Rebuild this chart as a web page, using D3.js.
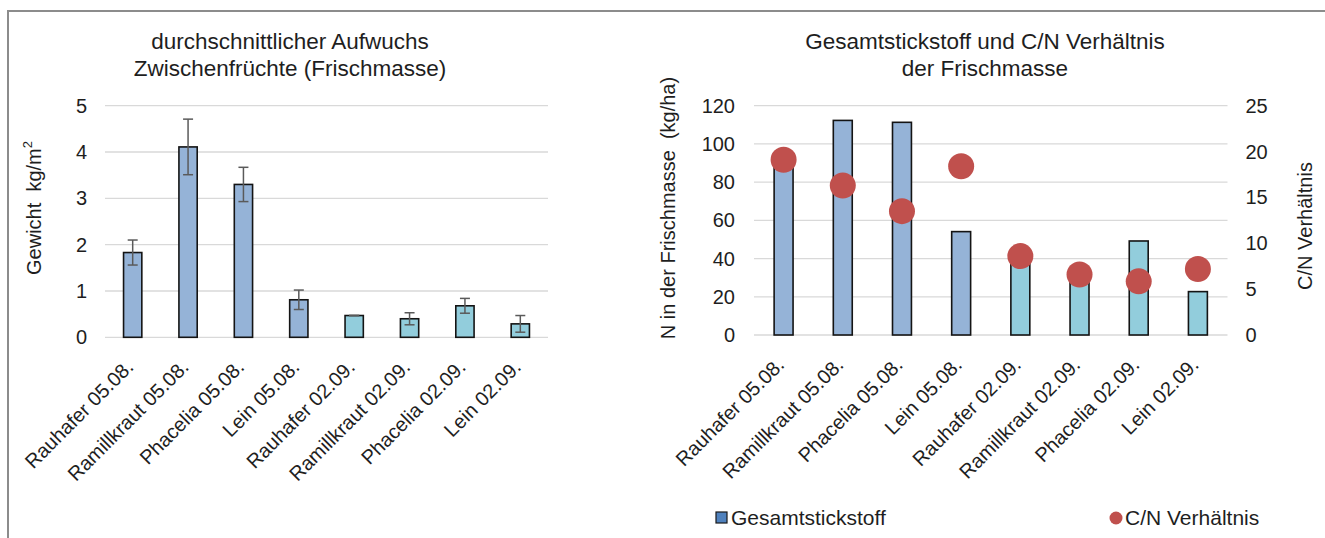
<!DOCTYPE html>
<html>
<head>
<meta charset="utf-8">
<script src="https://cdn.jsdelivr.net/npm/d3@7"></script>
<style>
  html, body { margin: 0; padding: 0; background: #fff; }
  svg { display: block; font-family: "Liberation Sans", Arial, sans-serif; }
  .pre { white-space: pre; }
</style>
</head>
<body>
<svg id="chart" width="1325" height="538"></svg>
<script>
// ---------------- data ----------------
const categories = ["Rauhafer 05.08.", "Ramillkraut 05.08.", "Phacelia 05.08.", "Lein 05.08.",
                    "Rauhafer 02.09.", "Ramillkraut 02.09.", "Phacelia 02.09.", "Lein 02.09."];
const samplingDate = ["05.08.", "05.08.", "05.08.", "05.08.", "02.09.", "02.09.", "02.09.", "02.09."];
const gewicht = [1.83, 4.11, 3.30, 0.81, 0.47, 0.40, 0.68, 0.29];
const gewichtError = [0.27, 0.60, 0.37, 0.21, 0.0, 0.13, 0.16, 0.18];
const stickstoff = [88, 112.3, 111.3, 54.1, 38, 30, 49.2, 22.7];
const cnVerhaeltnis = [19.1, 16.3, 13.5, 18.4, 8.6, 6.6, 5.85, 7.2];
const leftTicks = [0, 1, 2, 3, 4, 5];
const nTicks = [0, 20, 40, 60, 80, 100, 120];
const cnTicks = [0, 5, 10, 15, 20, 25];

// ---------------- styles ----------------
const colorByDate = d3.scaleOrdinal().domain(["05.08.", "02.09."]).range(["#95B3D7", "#92CDDC"]);
const dotColor = "#C0504D";
const textColor = "#1e1e1e";
const gridColor = "#d9d9d9";

const svg = d3.select("#chart");

// outer frame
svg.append("rect").attr("x", 8).attr("y", 11).attr("width", 1340).attr("height", 560)
  .attr("fill", "none").attr("stroke", "#8c8c8c").attr("stroke-width", 2);

function drawXLabels(g, x, y0) {
  g.selectAll("text.xl").data(categories).join("text")
    .attr("class", "xl")
    .attr("transform", d => `translate(${x(d) + x.bandwidth() / 2 - 3},${y0 + 26}) rotate(-45)`)
    .attr("text-anchor", "end")
    .attr("dy", "0.35em")
    .attr("font-size", 20)
    .attr("fill", textColor)
    .text(d => d);
}

// ================= LEFT CHART =================
{
  const L = { left: 105, right: 548, top: 105.7, bottom: 337.3 };
  const g = svg.append("g");
  const x = d3.scaleBand().domain(categories).range([L.left, L.right])
    .paddingInner(0.67).paddingOuter(0.335);
  const y = d3.scaleLinear().domain([0, 5]).range([L.bottom, L.top]);

  g.selectAll("line.grid").data(leftTicks).join("line")
    .attr("x1", L.left).attr("x2", L.right)
    .attr("y1", d => y(d)).attr("y2", d => y(d))
    .attr("stroke", gridColor).attr("stroke-width", 1.3);

  g.selectAll("text.yt").data(leftTicks).join("text")
    .attr("x", L.left - 18).attr("y", d => y(d)).attr("dy", "0.35em")
    .attr("text-anchor", "end").attr("font-size", 20).attr("fill", textColor)
    .text(d => d);

  g.selectAll("rect.bar").data(categories).join("rect")
    .attr("x", d => x(d)).attr("width", x.bandwidth())
    .attr("y", (d, i) => y(gewicht[i])).attr("height", (d, i) => y(0) - y(gewicht[i]))
    .attr("fill", (d, i) => colorByDate(samplingDate[i]))
    .attr("stroke", "#141414").attr("stroke-width", 1.6);

  const eb = g.selectAll("g.err").data(categories).join("g");
  eb.append("line")
    .attr("x1", d => x(d) + x.bandwidth() / 2).attr("x2", d => x(d) + x.bandwidth() / 2)
    .attr("y1", (d, i) => y(gewicht[i] + gewichtError[i])).attr("y2", (d, i) => y(gewicht[i] - gewichtError[i]));
  eb.append("line")
    .attr("x1", d => x(d) + x.bandwidth() / 2 - 5).attr("x2", d => x(d) + x.bandwidth() / 2 + 5)
    .attr("y1", (d, i) => y(gewicht[i] + gewichtError[i])).attr("y2", (d, i) => y(gewicht[i] + gewichtError[i]));
  eb.append("line")
    .attr("x1", d => x(d) + x.bandwidth() / 2 - 5).attr("x2", d => x(d) + x.bandwidth() / 2 + 5)
    .attr("y1", (d, i) => y(gewicht[i] - gewichtError[i])).attr("y2", (d, i) => y(gewicht[i] - gewichtError[i]));
  eb.selectAll("line").attr("stroke", "#5a5a5a").attr("stroke-width", 1.5);

  drawXLabels(g, x, L.bottom);

  // title
  const t = g.append("text").attr("text-anchor", "middle").attr("font-size", 22.5).attr("fill", textColor);
  t.append("tspan").attr("x", 290).attr("y", 49).text("durchschnittlicher Aufwuchs");
  t.append("tspan").attr("x", 290).attr("y", 76).text("Zwischenfrüchte (Frischmasse)");

  // y axis title
  const yt = g.append("text").attr("class", "pre").attr("transform", "translate(41,208) rotate(-90)")
    .attr("text-anchor", "middle").attr("font-size", 20).attr("fill", textColor);
  yt.append("tspan").text("Gewicht\u00a0\u00a0kg/m");
  yt.append("tspan").attr("font-size", 13).attr("dy", "-0.7em").text("2");
}

// ================= RIGHT CHART =================
{
  const R = { left: 754, right: 1227.5, top: 105.7, bottom: 335 };
  const g = svg.append("g");
  const x = d3.scaleBand().domain(categories).range([R.left, R.right])
    .paddingInner(0.68).paddingOuter(0.34);
  const y = d3.scaleLinear().domain([0, 120]).range([R.bottom, R.top]);
  const y2 = d3.scaleLinear().domain([0, 25]).range([R.bottom, R.top]);

  g.selectAll("line.grid").data(nTicks).join("line")
    .attr("x1", R.left).attr("x2", R.right)
    .attr("y1", d => y(d)).attr("y2", d => y(d))
    .attr("stroke", gridColor).attr("stroke-width", 1.3);

  g.selectAll("text.yt").data(nTicks).join("text")
    .attr("x", R.left - 19).attr("y", d => y(d)).attr("dy", "0.35em")
    .attr("text-anchor", "end").attr("font-size", 20).attr("fill", textColor)
    .text(d => d);

  g.selectAll("text.yt2").data(cnTicks).join("text")
    .attr("x", R.right + 18).attr("y", d => y2(d)).attr("dy", "0.35em")
    .attr("text-anchor", "start").attr("font-size", 20).attr("fill", textColor)
    .text(d => d);

  g.selectAll("rect.bar").data(categories).join("rect")
    .attr("x", d => x(d)).attr("width", x.bandwidth())
    .attr("y", (d, i) => y(stickstoff[i])).attr("height", (d, i) => y(0) - y(stickstoff[i]))
    .attr("fill", (d, i) => colorByDate(samplingDate[i]))
    .attr("stroke", "#141414").attr("stroke-width", 1.6);

  g.selectAll("circle.dot").data(categories).join("circle")
    .attr("cx", d => x(d) + x.bandwidth() / 2)
    .attr("cy", (d, i) => y2(cnVerhaeltnis[i]))
    .attr("r", 13).attr("fill", dotColor);

  drawXLabels(g, x, R.bottom);

  const t = g.append("text").attr("text-anchor", "middle").attr("font-size", 22.5).attr("fill", textColor);
  t.append("tspan").attr("x", 985).attr("y", 49).text("Gesamtstickstoff und C/N Verhältnis");
  t.append("tspan").attr("x", 985).attr("y", 76).text("der Frischmasse");

  g.append("text").attr("class", "pre").attr("transform", "translate(675,208) rotate(-90)")
    .attr("text-anchor", "middle").attr("font-size", 20).attr("fill", textColor)
    .text("N in der Frischmasse\u00a0\u00a0(kg/ha)");

  g.append("text").attr("transform", "translate(1312,226) rotate(-90)")
    .attr("text-anchor", "middle").attr("font-size", 20).attr("fill", textColor)
    .text("C/N Verhältnis");

  // legend
  const lg = g.append("g");
  lg.append("rect").attr("x", 716).attr("y", 512).attr("width", 11).attr("height", 11)
    .attr("fill", "#4F81BD").attr("stroke", "#1a1a1a").attr("stroke-width", 1.2);
  lg.append("text").attr("x", 731).attr("y", 518).attr("dy", "0.35em")
    .attr("font-size", 21).attr("fill", textColor).text("Gesamtstickstoff");
  lg.append("circle").attr("cx", 1116).attr("cy", 518).attr("r", 6.5).attr("fill", dotColor);
  lg.append("text").attr("x", 1125).attr("y", 518).attr("dy", "0.35em")
    .attr("font-size", 21).attr("fill", textColor).text("C/N Verhältnis");
}
</script>
</body>
</html>
